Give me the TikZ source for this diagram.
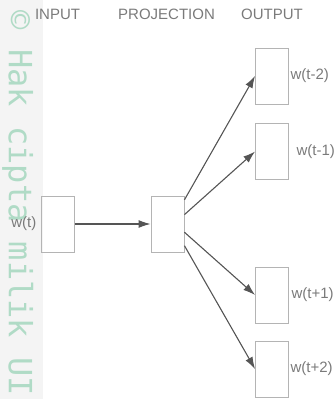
\documentclass[tikz,border=0pt]{standalone}
\usepackage{fontspec}
\setmainfont{Liberation Sans}
\newfontfamily\wmfont{DejaVu Sans Mono}
\usepackage{tikz}
\usetikzlibrary{arrows.meta}
\definecolor{boxgray}{HTML}{B4B4B4}
\definecolor{linegray}{HTML}{555555}
\definecolor{txtgray}{HTML}{7A7A7A}
\definecolor{wmgreen}{HTML}{B0DBC6}
\definecolor{stripgray}{HTML}{F4F4F4}
\tikzset{>={Latex[length=12pt,width=8pt]}}
\tikzset{
  wordbox/.style={draw=boxgray, line width=0.9pt, minimum width=33pt, minimum height=56pt, inner sep=0pt},
  caption/.style={text=txtgray, font=\fontsize{15}{18}\selectfont, anchor=base, inner sep=0pt},
  wlabel/.style={text=txtgray, font=\fontsize{15}{18}\selectfont, anchor=west, inner sep=0pt},
  link/.style={->, draw=linegray, line width=1.1pt}
}

\begin{document}
\begin{tikzpicture}[x=1pt,y=-1pt]
                    \useasboundingbox (0,0) rectangle (334,399);
                    % watermark strip
                    \fill[stripgray] (0,0) rectangle (43,399);
                    \node[rotate=-90, anchor=base west, inner sep=0pt, text=wmgreen, font=\wmfont\fontsize{32}{32}\selectfont] (mark) at (9,10.5) {© Hak cipta milik UI};
                    % column titles
                    \node[caption] (tin) at (57.5,19.3) {INPUT};
                    \node[caption] (tproj) at (166.5,19.3) {PROJECTION};
                    \node[caption] (tout) at (272,19.3) {OUTPUT};
                    % boxes
                    \node[wordbox] (in) at (58,224) {};
                    \node[wordbox] (proj) at (167.5,224) {};
                    \node[wordbox] (out1) at (272,76) {};
                    \node[wordbox] (out2) at (272,151.5) {};
                    \node[wordbox] (out3) at (272,295) {};
                    \node[wordbox] (out4) at (272,369) {};
                    % labels
                    \node[wlabel, anchor=east] (lin) at ([xshift=-4.5pt]in.west) {w(t)};
                    \node[wlabel] (l1) at ([xshift=1.5pt]out1.east) {w(t-2)};
                    \node[wlabel] (l2) at ([xshift=7.5pt]out2.east) {w(t-1)};
                    \node[wlabel] (l3) at ([xshift=2.5pt]out3.east) {w(t+1)};
                    \node[wlabel] (l4) at ([xshift=1.5pt]out4.east) {w(t+2)};
                    % arrows
                    \draw[link] (in.east) -- (proj.west);
                    \draw[link] (proj.55) -- (out1.west);
                    \draw[link] (proj.29) -- (out2.west);
                    \draw[link] (proj.-26) -- (out3.west);
                    \draw[link] (proj.-52) -- (out4.west);
\end{tikzpicture}
\end{document}
